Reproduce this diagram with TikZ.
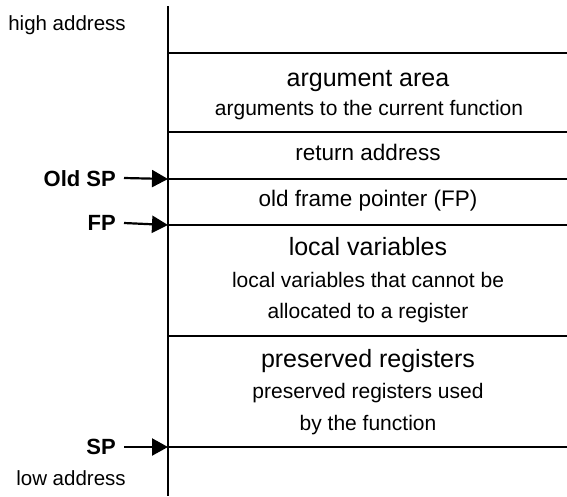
\documentclass[tikz,border=0pt]{standalone}
\usepackage{fontspec}
\setmainfont{Liberation Sans}
\usetikzlibrary{arrows.meta}
\begin{document}
\begin{tikzpicture}[x=1pt,y=-1pt,
  rule/.style={line width=1.8pt},
  big/.style={font=\fontsize{25}{30}\selectfont, anchor=base, inner sep=0pt},
  mid/.style={font=\fontsize{22.5}{27}\selectfont, anchor=base, inner sep=0pt},
  small/.style={font=\fontsize{21}{25}\selectfont, anchor=base, inner sep=0pt},
  addr/.style={font=\fontsize{20.5}{24}\selectfont, anchor=base, inner sep=0pt},
  side/.style={font=\fontsize{22}{26}\selectfont\bfseries, anchor=base east, inner sep=0pt},
  ptr/.style={line width=2.2pt, -{Triangle[length=16pt,width=17pt]}}]
\useasboundingbox (0,0) rectangle (567,496);
% stack
\coordinate (top) at (168,6);
\coordinate (bot) at (168,496);
\draw[rule] (top) -- (bot);
\foreach \n/\y in {l1/53,l2/132,l3/179,l4/225,l5/336,l6/447}{
  \coordinate (\n a) at (168,\y);
  \coordinate (\n b) at (567,\y);
  \draw[rule] (\n a) -- (\n b);
}
% texts
\node[addr] (high) at (67,30) {high address};
\node[addr] (low) at (71,485) {low address};
\node[big] (argt) at (368,86) {argument area};
\node[small] (args) at (369,115) {arguments to the current function};
\node[mid] (ret) at (368,160) {return address};
\node[mid] (ofp) at (368,206) {old frame pointer (FP)};
\node[big] (lvt) at (368,255) {local variables};
\node[small] (lvs1) at (368,287) {local variables that cannot be};
\node[small] (lvs2) at (368,318) {allocated to a register};
\node[big] (prt) at (368,367) {preserved registers};
\node[small] (prs1) at (368,398) {preserved registers used};
\node[small] (prs2) at (368,430) {by the function};
% pointers
\node[side] (osp) at (116,186) {Old SP};
\node[side] (fp) at (116,230) {FP};
\node[side] (sp) at (116,454) {SP};
\coordinate (ospt) at (124,178);
\coordinate (fpt) at (124,223);
\coordinate (spt) at (124,447);
\draw[ptr] (ospt) -- (l3a);
\draw[ptr] (fpt) -- (l4a);
\draw[ptr] (spt) -- (l6a);
\end{tikzpicture}
\end{document}
